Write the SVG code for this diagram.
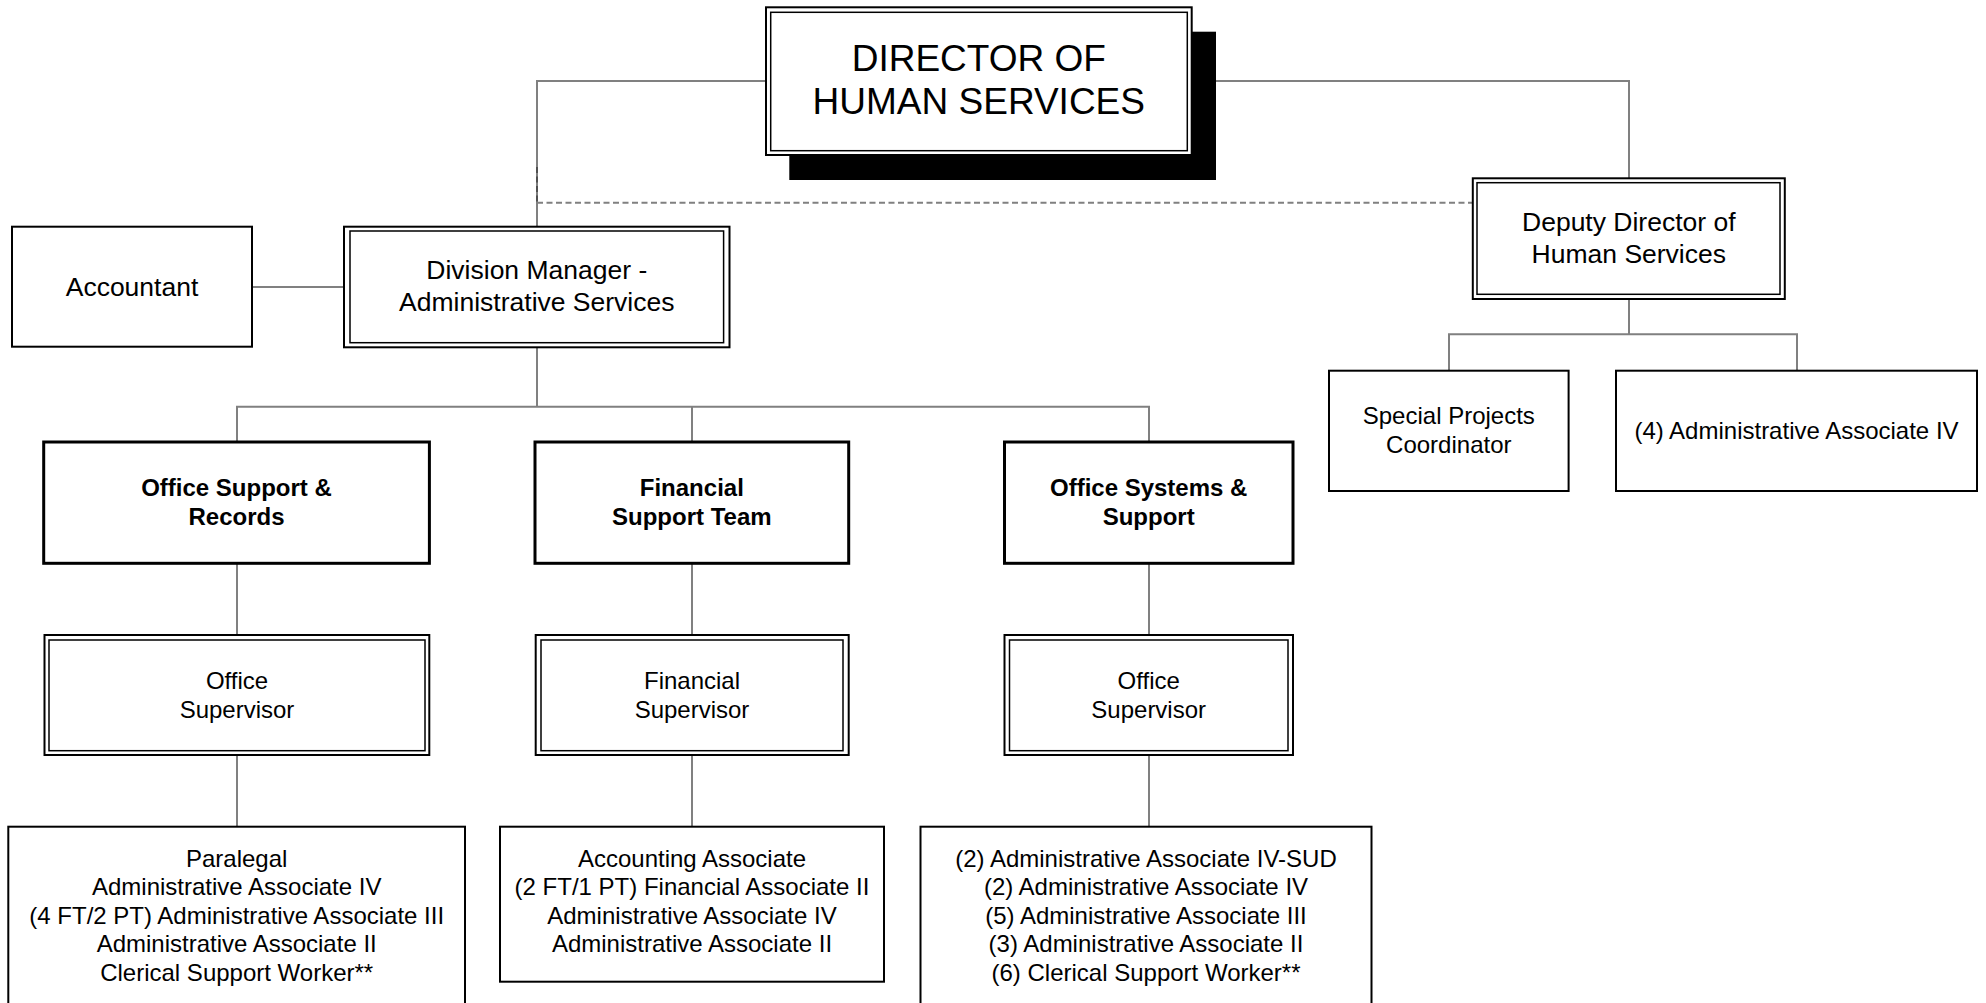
<svg xmlns="http://www.w3.org/2000/svg" width="1986" height="1003" viewBox="0 0 1986 1003">
  <style>
    .bg { fill: #ffffff; }
    .box { fill: #ffffff; stroke: #000000; stroke-width: 2; }
    .thick { fill: #ffffff; stroke: #000000; stroke-width: 3; }
    .inner { fill: none; stroke: #000000; stroke-width: 1.5; }
    .shadow { fill: #000000; }
    .link { fill: none; stroke: #808080; stroke-width: 2; }
    .dash { fill: none; stroke: #808080; stroke-width: 2; stroke-dasharray: 6 3.5; }
    .dashdark { fill: none; stroke: #505050; stroke-width: 2; stroke-dasharray: 6 3.5; }
    text { font-family: "Liberation Sans", Arial, sans-serif; fill: #000000; text-anchor: middle; }
    .t24 { font-size: 24px; }
    .t26 { font-size: 26.5px; }
    .t37 { font-size: 37px; }
    .b24 { font-size: 24px; font-weight: bold; }
  </style>

  <rect class="bg" x="0" y="0" width="1986" height="1003"/>

  <!-- connectors -->
  <g id="connectors">
    <!-- director to division manager and deputy -->
    <path class="link" d="M766,81 H537 V226.7"/>
    <path class="link" d="M1191,81 H1629 V178.3"/>
    <!-- dotted reporting line -->
    <path class="dashdark" d="M537,167 V202.7"/>
    <path class="dash" d="M537,202.7 H1472.8"/>
    <!-- accountant -->
    <path class="link" d="M252,287 H344"/>
    <!-- division manager to teams -->
    <path class="link" d="M537,347 V406.7"/>
    <path class="link" d="M237,442 V406.7 H1149 V442"/>
    <path class="link" d="M692,406.7 V442"/>
    <!-- teams to supervisors -->
    <path class="link" d="M237,563.3 V635"/>
    <path class="link" d="M692,563.3 V635"/>
    <path class="link" d="M1149,563.3 V635"/>
    <!-- supervisors to staff -->
    <path class="link" d="M237,755 V826.7"/>
    <path class="link" d="M692,755 V826.7"/>
    <path class="link" d="M1149,755 V826.7"/>
    <!-- deputy to staff -->
    <path class="link" d="M1629,299 V334.3"/>
    <path class="link" d="M1449,370.7 V334.3 H1797 V370.7"/>
  </g>

  <!-- director -->
  <g id="director">
    <rect class="shadow" x="789.3" y="31.7" width="426.7" height="148.3"/>
    <rect class="box" x="766" y="7.3" width="425.7" height="147.7"/>
    <rect class="inner" x="770.7" y="12.3" width="416.6" height="138.4"/>
    <text class="t37" x="978.8" y="70.5">DIRECTOR OF</text>
    <text class="t37" x="978.8" y="114">HUMAN SERVICES</text>
  </g>

  <!-- deputy director -->
  <g id="deputy">
    <rect class="box" x="1472.8" y="178.3" width="312" height="120.7"/>
    <rect class="inner" x="1477" y="182.7" width="303" height="111.6"/>
    <text class="t26" x="1628.8" y="231">Deputy Director of</text>
    <text class="t26" x="1628.8" y="262.5">Human Services</text>
  </g>

  <!-- accountant -->
  <g id="accountant">
    <rect class="box" x="12" y="226.7" width="240" height="120"/>
    <text class="t26" x="132" y="296">Accountant</text>
  </g>

  <!-- division manager -->
  <g id="division-manager">
    <rect class="box" x="344" y="226.7" width="385.5" height="120.6"/>
    <rect class="inner" x="350" y="231" width="373.6" height="111.7"/>
    <text class="t26" x="536.8" y="279.3">Division Manager -</text>
    <text class="t26" x="536.8" y="311.3">Administrative Services</text>
  </g>

  <!-- special projects -->
  <g id="special-projects">
    <rect class="box" x="1329" y="370.7" width="239.6" height="120.3"/>
    <text class="t24" x="1448.8" y="424">Special Projects</text>
    <text class="t24" x="1448.8" y="452.5">Coordinator</text>
  </g>

  <!-- deputy staff -->
  <g id="deputy-staff">
    <rect class="box" x="1616" y="370.7" width="361" height="120.3"/>
    <text class="t24" x="1796.5" y="438.5">(4) Administrative Associate IV</text>
  </g>

  <!-- team: office support & records -->
  <g id="office-support-records">
    <rect class="thick" x="43.7" y="442" width="385.7" height="121.3"/>
    <text class="b24" x="236.5" y="495.7">Office Support &amp;</text>
    <text class="b24" x="236.5" y="524.7">Records</text>
  </g>

  <!-- team: financial support -->
  <g id="financial-support-team">
    <rect class="thick" x="535" y="442" width="313.7" height="121.3"/>
    <text class="b24" x="691.8" y="495.7">Financial</text>
    <text class="b24" x="691.8" y="524.7">Support Team</text>
  </g>

  <!-- team: office systems & support -->
  <g id="office-systems-support">
    <rect class="thick" x="1004.5" y="442" width="288.5" height="121.3"/>
    <text class="b24" x="1148.7" y="495.7">Office Systems &amp;</text>
    <text class="b24" x="1148.7" y="524.7">Support</text>
  </g>

  <!-- supervisors -->
  <g id="office-supervisor-1">
    <rect class="box" x="44.5" y="635" width="384.8" height="120"/>
    <rect class="inner" x="49" y="640" width="376" height="110.7"/>
    <text class="t24" x="237" y="688.6">Office</text>
    <text class="t24" x="237" y="717.6">Supervisor</text>
  </g>

  <g id="financial-supervisor">
    <rect class="box" x="535.7" y="635" width="313" height="120"/>
    <rect class="inner" x="541" y="640" width="302" height="110.7"/>
    <text class="t24" x="692" y="688.6">Financial</text>
    <text class="t24" x="692" y="717.6">Supervisor</text>
  </g>

  <g id="office-supervisor-2">
    <rect class="box" x="1004.5" y="635" width="288.5" height="120"/>
    <rect class="inner" x="1009.5" y="640" width="278.5" height="110.7"/>
    <text class="t24" x="1148.7" y="688.6">Office</text>
    <text class="t24" x="1148.7" y="717.6">Supervisor</text>
  </g>

  <!-- staff lists -->
  <g id="records-staff">
    <rect class="box" x="8.3" y="826.7" width="456.7" height="200"/>
    <text class="t24" x="236.7" y="866.5">Paralegal</text>
    <text class="t24" x="236.7" y="895">Administrative Associate IV</text>
    <text class="t24" x="236.7" y="923.5">(4 FT/2 PT) Administrative Associate III</text>
    <text class="t24" x="236.7" y="952">Administrative Associate II</text>
    <text class="t24" x="236.7" y="980.5">Clerical Support Worker**</text>
  </g>

  <g id="financial-staff">
    <rect class="box" x="500" y="826.7" width="384" height="155"/>
    <text class="t24" x="692" y="867">Accounting Associate</text>
    <text class="t24" x="692" y="895.3">(2 FT/1 PT) Financial Associate II</text>
    <text class="t24" x="692" y="923.7">Administrative Associate IV</text>
    <text class="t24" x="692" y="952">Administrative Associate II</text>
  </g>

  <g id="systems-staff">
    <rect class="box" x="920.5" y="826.7" width="451" height="200"/>
    <text class="t24" x="1146" y="866.5">(2) Administrative Associate IV-SUD</text>
    <text class="t24" x="1146" y="895">(2) Administrative Associate IV</text>
    <text class="t24" x="1146" y="923.5">(5) Administrative Associate III</text>
    <text class="t24" x="1146" y="952">(3) Administrative Associate II</text>
    <text class="t24" x="1146" y="980.5">(6) Clerical Support Worker**</text>
  </g>
</svg>
